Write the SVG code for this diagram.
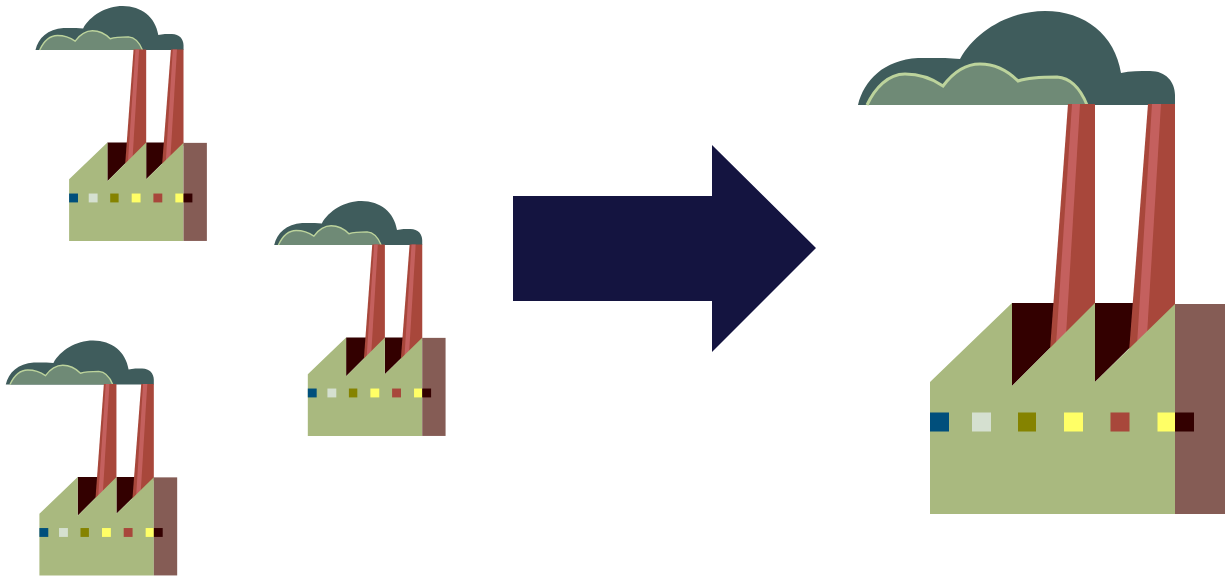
<svg xmlns="http://www.w3.org/2000/svg" width="1229" height="578" viewBox="0 0 1229 578">
<style>
.cloud{fill:#3f5c5c}
.puff{fill:#6f8a76}
.rim{fill:none;stroke:#bcd39c;stroke-width:3}
.stack{fill:#a8473b}
.shine{fill:#c4605e}
.wall{fill:#a9b97f}
.side{fill:#855c55}
.dark{fill:#330000}
</style>
<defs>
<g id="factory">
<path class="cloud" d="M858 105C864 80 884 60 918 58L945 58L960 59C975 32 1008 11 1045 11C1085 11 1115 35 1121 73C1130 71 1140 71 1150 71C1166 71 1175 82 1175 95L1175 105Z"/>
<path class="puff" d="M867 105C875 88 888 74 905 74C920 74 933 79 943 86C952 74 965 64 980 64C996 64 1008 71 1018 81C1030 77 1045 77 1057 77C1071 78 1081 90 1087 105Z"/>
<path class="rim" d="M867 105C875 88 888 74 905 74C920 74 933 79 943 86C952 74 965 64 980 64C996 64 1008 71 1018 81C1030 77 1045 77 1057 77C1071 78 1081 90 1087 105"/>
<polygon class="dark" points="1012,303 1095,303 1012,386"/>
<polygon class="dark" points="1095,303 1175,303 1095,382"/>
<polygon class="stack" points="1068,104 1095,104 1095,310 1050,350"/>
<polygon class="shine" points="1072,104 1080,104 1066,335 1056,345"/>
<polygon class="stack" points="1148,104 1175,104 1175,310 1129,352"/>
<polygon class="shine" points="1152,104 1161,104 1147,335 1137,345"/>
<polygon class="wall" points="930,382 1012,303 1012,386 1095,303 1095,382 1175,304 1175,514 930,514"/>
<rect class="side" x="1175" y="304" width="50" height="210"/>
<rect x="930" y="412.500" width="19" height="19" fill="#004f7c"/>
<rect x="972" y="412.500" width="19" height="19" fill="#d5e0d0"/>
<rect x="1018" y="412.500" width="18" height="19" fill="#858300"/>
<rect x="1064" y="412.500" width="19" height="19" fill="#ffff66"/>
<rect x="1110.500" y="412.500" width="19" height="19" fill="#a8473b"/>
<rect x="1157.500" y="412.500" width="17.500" height="19" fill="#ffff66"/>
<rect class="dark" x="1175" y="412.500" width="19" height="19"/>
</g>
</defs>
<g id="factory-top-left"><use href="#factory" transform="translate(-365.200 0.900) scale(0.467)"/></g>
<g id="factory-bottom-left"><use href="#factory" transform="translate(-394.900 335.400) scale(0.467)"/></g>
<g id="factory-middle"><use href="#factory" transform="translate(-126.500 195.900) scale(0.467)"/></g>
<g id="factory-large"><use href="#factory"/></g>
<g id="connectors"><polygon fill="#141440" points="513,196 712,196 712,145 816,248 712,352 712,301 513,301"/></g>
</svg>
